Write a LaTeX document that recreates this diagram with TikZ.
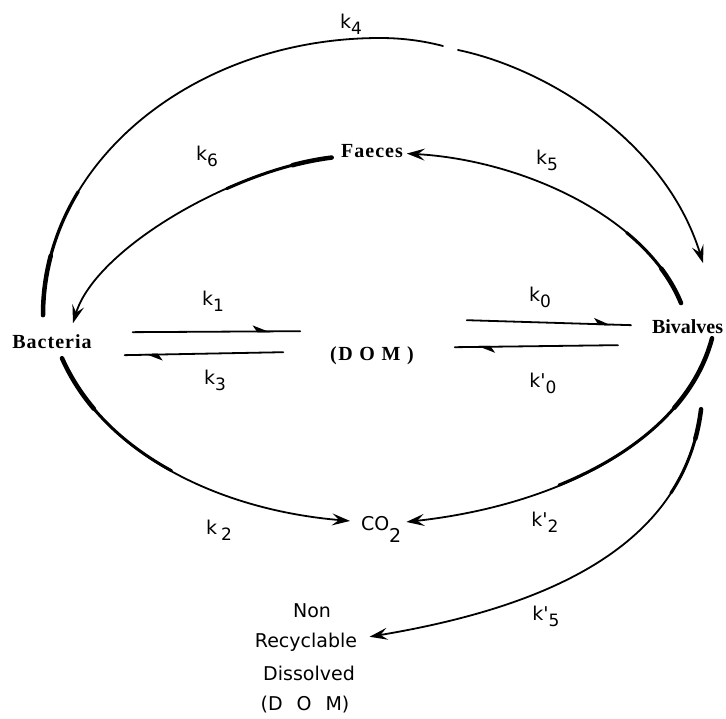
\documentclass[tikz,border=0pt]{standalone}
\usepackage{fontspec}
\setmainfont{Liberation Serif}
\newfontfamily\namefont[LetterSpace=5]{Liberation Serif}
\newfontfamily\plainname{Liberation Serif}
\newfontfamily\domfont[LetterSpace=8]{Liberation Serif}
\newfontfamily\lblfont{DejaVu Sans}
\usetikzlibrary{arrows.meta,decorations.markings}
\newcommand\klab[2]{k#1\raisebox{-6pt}{\fontsize{17}{17}\selectfont #2}}
\begin{document}
\begin{tikzpicture}[x=1pt,y=-1pt,
  every node/.style={inner sep=0pt, outer sep=0pt},
  species/.style={font={\fontsize{20}{22}\namefont\bfseries}},
  bivstyle/.style={font={\fontsize{20}{22}\plainname\bfseries}},
  domstyle/.style={font={\fontsize{20}{22}\domfont\bfseries}},
  chem/.style={font={\fontsize{19}{21}\lblfont}},
  nr/.style={font={\fontsize{19}{21}\lblfont}},
  klabel/.style={font={\fontsize{19}{21}\lblfont}},
  flow/.style={line width=1.8pt, line cap=round},
  arr/.style={-{Stealth[length=18pt,width=12pt,inset=7pt]}},
  heavy/.style 2 args={line width=#1, dash pattern=on #2 off 3000pt, line cap=round},
  harp/.style={decoration={markings,mark=at position #1 with {\arrow{Stealth[harpoon,length=15pt,width=12pt,inset=4pt]}}},postaction=decorate}
]
\useasboundingbox (0,0) rectangle (726,718);

% compartments
\node[species, anchor=base] (bact) at (52,348) {Bacteria};
\node[species, anchor=base] (faec) at (372,157) {Faeces};
\node[bivstyle, anchor=base west] (biv) at (652,333) {Bivalves};
\node[domstyle, anchor=base] (dom) at (372,360) {(D O M )};
\node[chem, anchor=base west] (co2) at (361,530) {CO\raisebox{-12pt}{2}};
\node[nr, anchor=base] (non) at (312,617) {Non};
\node[nr, anchor=base] (recyc) at (306,647) {Recyclable};
\node[nr, anchor=base] (diss) at (309,680) {Dissolved};
\node[nr, anchor=base] (domb) at (305,710) {(D\hspace{14pt}O\hspace{14pt}M)};

% rate labels
\node[klabel] (lk4) at (351,24) {\klab{}{4}};
\node[klabel] (lk6) at (207,156) {\klab{}{6}};
\node[klabel] (lk5) at (547,160) {\klab{}{5}};
\node[klabel] (lk1) at (213,301) {\klab{}{1}};
\node[klabel] (lk3) at (215,380) {\klab{}{3}};
\node[klabel] (lk0) at (540,297) {\klab{}{0}};
\node[klabel] (lk0p) at (543,383) {\klab{'}{0}};
\node[klabel] (lk2) at (219,530) {\klab{\hspace{4pt}}{2}};
\node[klabel] (lk2p) at (545,522) {\klab{'}{2}};
\node[klabel] (lk5p) at (546,616) {\klab{'}{5}};

\coordinate (k4gapA) at (443,46);
\coordinate (k4gapB) at (458,50);

% k4 : Bacteria -> Bivalves (outer arc)
\draw[heavy={4.5pt}{60pt}] ([shift={(-9,-19)}]bact.north) .. controls (43,162) and (194,38) .. (380,38) .. controls (403,38) and (424,41) .. (k4gapA);
\draw[heavy={3.2pt}{130pt}] ([shift={(-9,-19)}]bact.north) .. controls (43,162) and (194,38) .. (380,38) .. controls (403,38) and (424,41) .. (k4gapA);
\draw[flow] ([shift={(-9,-19)}]bact.north) .. controls (43,162) and (194,38) .. (380,38) .. controls (403,38) and (424,41) .. (k4gapA);
\draw[flow, arr] (k4gapB) .. controls (545,68) and (665,140) .. ([shift={(15.5,-56)}]biv.north);

% k6 : Faeces -> Bacteria
\draw[heavy={4.5pt}{40pt}] ([shift={(-9.5,7)}]faec.west) .. controls (230,170) and (95,250) .. ([shift={(21,-11)}]bact.north);
\draw[heavy={3pt}{110pt}] ([shift={(-9.5,7)}]faec.west) .. controls (230,170) and (95,250) .. ([shift={(21,-11)}]bact.north);
\draw[flow, arr] ([shift={(-9.5,7)}]faec.west) .. controls (230,170) and (95,250) .. ([shift={(21,-11)}]bact.north);

% k5 : Bivalves -> Faeces
\draw[heavy={4.5pt}{40pt}] ([shift={(-6.5,-16)}]biv.north) .. controls (645,215) and (520,160) .. ([shift={(4,3)}]faec.east);
\draw[heavy={3pt}{90pt}] ([shift={(-6.5,-16)}]biv.north) .. controls (645,215) and (520,160) .. ([shift={(4,3)}]faec.east);
\draw[flow, arr] ([shift={(-6.5,-16)}]biv.north) .. controls (645,215) and (520,160) .. ([shift={(4,3)}]faec.east);

% k1, k3 : Bacteria <-> DOM
\draw[flow, harp=0.82] ([shift={(41,-9)}]bact.east) -- ([shift={(-30,-24)}]dom.west);
\draw[flow, harp=0.87] ([shift={(-47,-3)}]dom.west) -- ([shift={(33,14)}]bact.east);

% k0, k'0 : DOM <-> Bivalves
\draw[flow, harp=0.88] ([shift={(53,-35)}]dom.east) -- ([shift={(-21,-1)}]biv.west);
\draw[flow, harp=0.86] ([shift={(-34,19)}]biv.west) -- ([shift={(41,-8)}]dom.east);

% k2 : Bacteria -> CO2
\draw[heavy={4.5pt}{60pt}] ([shift={(10,10)}]bact.south) .. controls (105,455) and (220,510) .. ([shift={(-11,-8)}]co2.west);
\draw[heavy={3pt}{160pt}] ([shift={(10,10)}]bact.south) .. controls (105,455) and (220,510) .. ([shift={(-11,-8)}]co2.west);
\draw[flow, arr] ([shift={(10,10)}]bact.south) .. controls (105,455) and (220,510) .. ([shift={(-11,-8)}]co2.west);

% k'2 : Bivalves -> CO2
\draw[heavy={4.5pt}{80pt}] ([shift={(24.5,5)}]biv.south) .. controls (685,440) and (560,505) .. ([shift={(5,-7)}]co2.east);
\draw[heavy={3pt}{220pt}] ([shift={(24.5,5)}]biv.south) .. controls (685,440) and (560,505) .. ([shift={(5,-7)}]co2.east);
\draw[flow, arr] ([shift={(24.5,5)}]biv.south) .. controls (685,440) and (560,505) .. ([shift={(5,-7)}]co2.east);

% k'5 : Bivalves -> Non recyclable DOM
\draw[heavy={4.5pt}{30pt}] ([shift={(13.5,76)}]biv.south) .. controls (685,540) and (560,605) .. ([shift={(12.5,-5)}]recyc.east);
\draw[heavy={3pt}{90pt}] ([shift={(13.5,76)}]biv.south) .. controls (685,540) and (560,605) .. ([shift={(12.5,-5)}]recyc.east);
\draw[flow, arr] ([shift={(13.5,76)}]biv.south) .. controls (685,540) and (560,605) .. ([shift={(12.5,-5)}]recyc.east);
\end{tikzpicture}
\end{document}
